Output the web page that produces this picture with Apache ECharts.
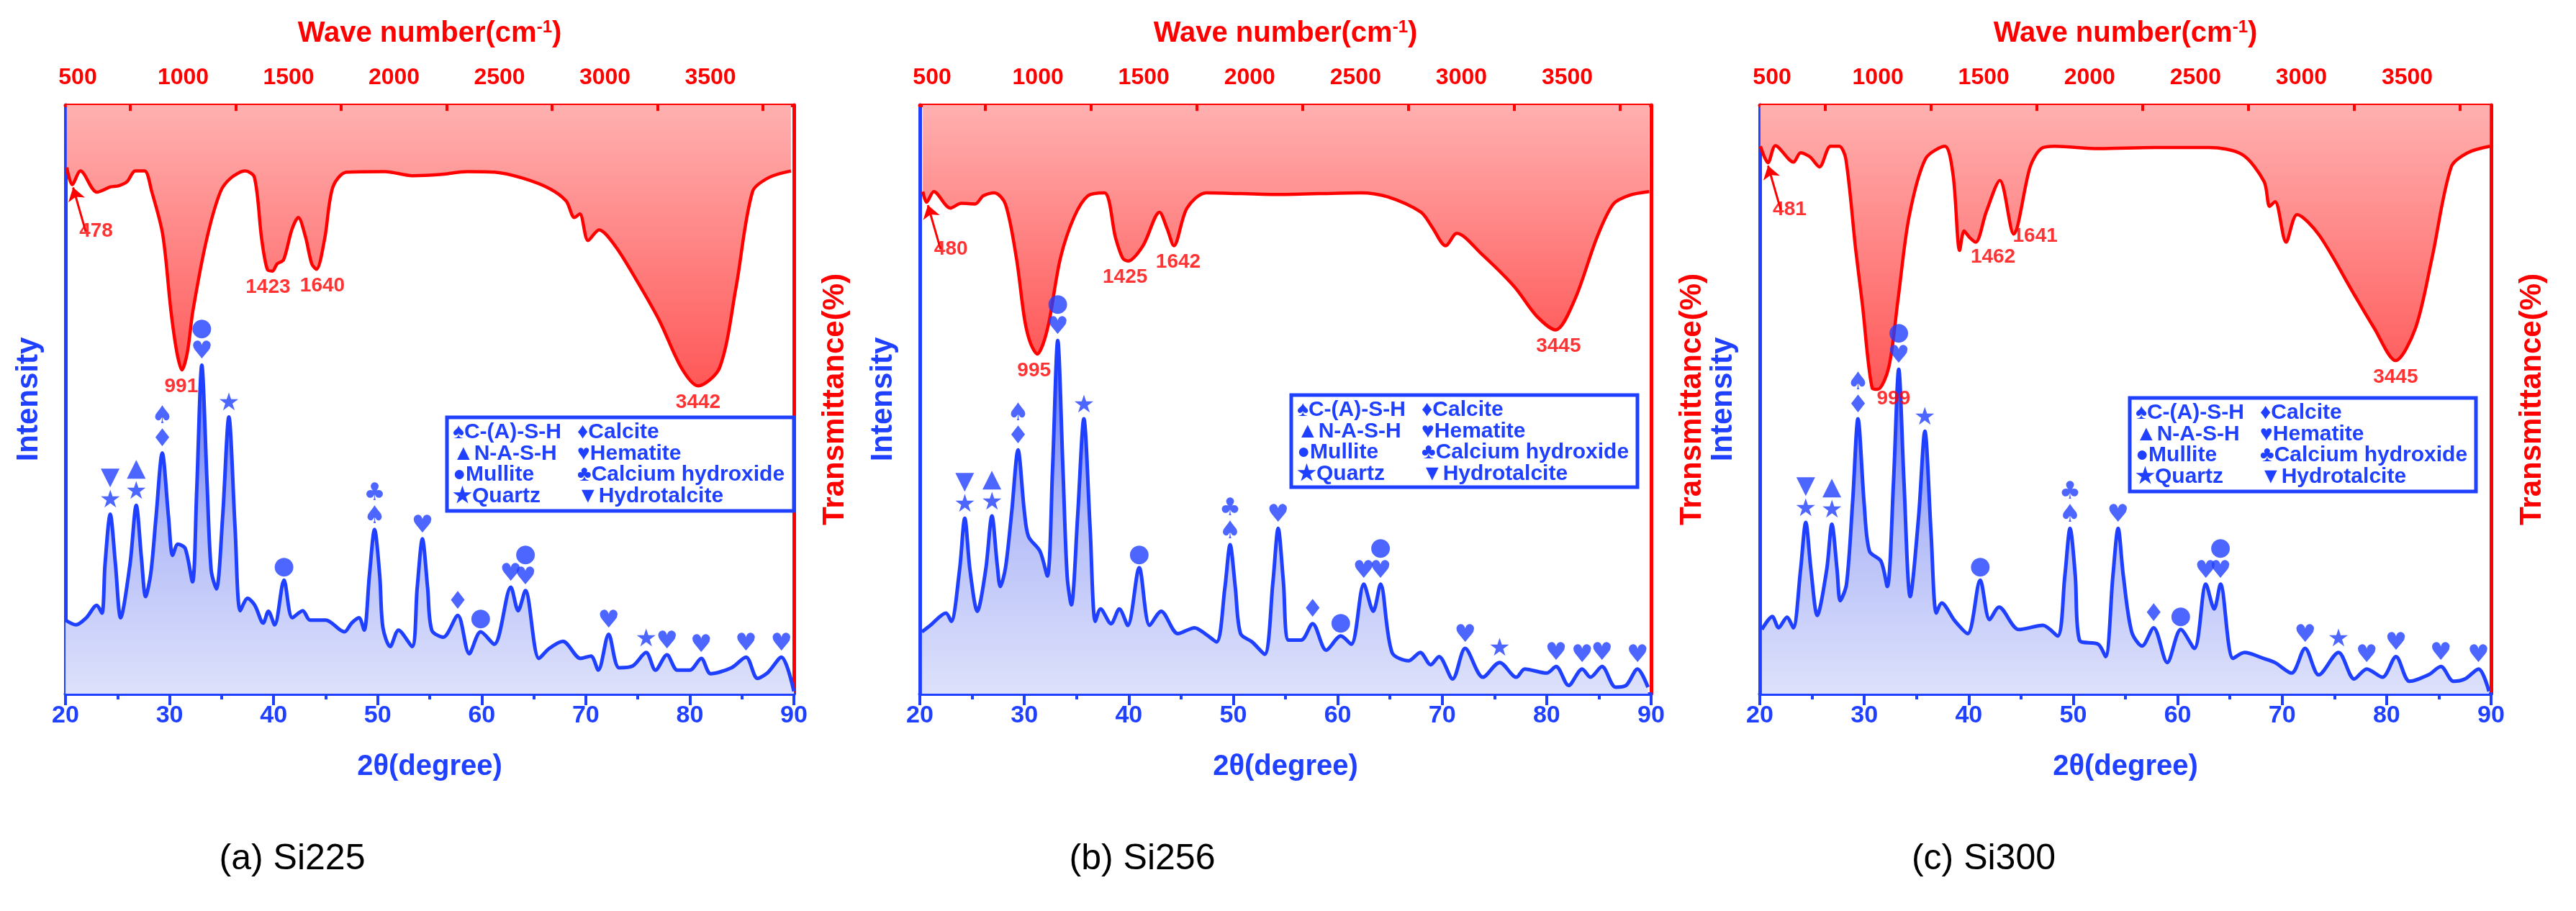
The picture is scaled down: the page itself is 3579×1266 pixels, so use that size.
<!DOCTYPE html>
<html><head><meta charset="utf-8">
<script src="https://cdn.jsdelivr.net/npm/echarts@6/dist/echarts.min.js"></script>
<style>html,body{margin:0;padding:0;background:#fff}#c{width:3579px;height:1266px}</style>
</head><body><div id="c"></div>
<script>
// ---------------- DATA ----------------
const panelNames = ['(a) Si225', '(b) Si256', '(c) Si300'];
const xrdTicks = [20, 30, 40, 50, 60, 70, 80, 90];
const ftirTicks = [500, 1000, 1500, 2000, 2500, 3000, 3500];
const ftirMinorTicks = [750, 1250, 1750, 2250, 2750, 3250, 3750];

// XRD: [2theta, relative intensity]
const xrdA = [[20,12.5],[21,11.7],[22,12.9],[23,15],[23.5,13.7],[23.8,22],[24.3,30.5],[24.8,22],[25.3,12.9],[26.2,22],[26.8,32],[27.3,23],[27.7,16.5],[28.2,20.5],[28.7,30],[29.3,40.9],[29.9,30],[30.3,23.5],[30.8,25.4],[31.5,24.7],[32.2,19],[32.6,34],[33.1,55.8],[33.6,36],[34,21],[34.5,17.8],[35.1,30],[35.7,47],[36.3,28],[36.8,14.1],[37.5,16.2],[38.2,15],[39,12],[39.5,14],[40.1,11.7],[41,19.3],[41.8,12.9],[42.8,14.1],[43.5,12.5],[45,12.5],[46.8,10.5],[47.5,12],[48.2,12.9],[48.7,10.8],[49.2,20],[49.7,27.9],[50.2,20],[50.5,11.3],[51.2,8],[52,10.8],[53.3,8],[53.8,18],[54.3,26.3],[54.8,18],[55.2,10.8],[56.3,9.6],[57.7,13.3],[58.8,6.8],[59.9,10.5],[61.2,8.4],[62.8,18.1],[63.5,14.1],[64.2,17.5],[65.5,6],[66.5,7.7],[67.8,8.9],[69.5,6],[70.5,6.4],[71.2,4],[72.2,10.1],[73.2,4.4],[74.5,4.7],[75.8,7],[76.7,4],[77.8,6.6],[78.8,4],[80,4],[81.1,6],[82,3.4],[84,4.4],[85.4,6.2],[86.5,2.6],[87.5,3.6],[88.8,6.2],[90,0.4]];
const xrdB = [[20.2,10.5],[21,11.6],[22.5,13.7],[23,12.3],[23.8,21],[24.3,29.8],[24.8,21],[25.5,14],[26.3,21],[26.9,30.2],[27.4,22],[27.7,18.2],[28.2,21.4],[28.8,31],[29.4,41.4],[30,31],[30.4,26.7],[31.5,24.2],[32.2,20],[32.7,38],[33.2,60],[33.7,38],[34.1,20],[34.5,15.1],[35.1,30],[35.7,46.7],[36.3,28],[36.8,12.3],[37.3,14.4],[38.3,11.9],[39.1,14.4],[39.9,11.6],[41,21.4],[42,11.6],[43.1,14],[44.7,10.2],[46.3,11.2],[47.3,10.2],[48.4,8.8],[49.2,18],[49.7,25.3],[50.2,18],[50.7,10.2],[51.8,8.8],[53,6.7],[53.8,19],[54.3,28.1],[54.8,19],[55.3,9.1],[56.5,9.1],[57.6,11.9],[58.9,7.4],[60.3,9.8],[61.3,8.4],[62.5,18.6],[63.4,14],[64.1,18.6],[65.2,7],[66.8,5.6],[67.9,7],[68.9,4.9],[69.7,6.3],[71,2.5],[72.2,7.7],[73.9,2.8],[75.5,5.3],[77.1,2.8],[77.9,4.2],[80,3.5],[80.9,4.6],[82.1,1.4],[83.4,4.2],[84.2,2.8],[85.3,4.6],[86.6,1.1],[87.6,1.4],[88.7,4.2],[89.7,1.1]];
const xrdC = [[20.2,10.9],[21.2,13.1],[21.8,11.2],[22.6,13],[23.2,11.2],[23.9,21],[24.4,29.1],[24.9,21],[25.5,13.3],[26.4,21],[26.9,28.8],[27.4,21],[27.7,15.8],[28.3,18.6],[28.9,33],[29.4,46.7],[30,32],[30.5,24.2],[31.6,22.5],[32.2,18.2],[32.8,36],[33.3,55.1],[33.8,36],[34.4,16.5],[35.2,30],[35.8,44.6],[36.4,27],[36.9,13.7],[37.4,15.4],[38.7,12.3],[39.9,10.2],[41.1,19.3],[42,12.6],[42.9,14.7],[44.8,10.9],[47.1,11.6],[48.5,9.8],[49.2,20],[49.7,28.1],[50.2,20],[50.6,9.1],[52.4,8.4],[53.1,6.3],[53.8,20],[54.3,28.1],[54.8,20],[55.6,10.5],[56.6,8.1],[57.7,11.2],[59,5.3],[60.3,10.9],[61.6,7.7],[62.7,18.6],[63.5,14.4],[64.1,18.6],[65.3,6],[66.4,7],[68.2,6],[69.3,5.3],[70.9,3.5],[72.2,7.7],[73.5,3.2],[75.4,7],[76.9,2.5],[78.1,4.2],[79.6,2.8],[80.9,6.3],[82.2,2.1],[84,3.2],[85.2,4.6],[86.4,2.1],[87.5,2.5],[88.8,4.2],[89.8,0.4]];

// FTIR: [wavenumber, transmittance (%)]
const ftirA = [[448,89.4],[474,86.5],[513,88.8],[591,85.2],[656,86.1],[695,86.3],[734,87],[773,88.8],[817,88.8],[851,85.3],[903,78],[942,65],[970,58],[994,55],[1020,58],[1046,65],[1112,77.3],[1177,85.3],[1229,87.7],[1294,88.8],[1338,87.7],[1372,77.3],[1400,72],[1424,71.8],[1445,73],[1476,73.7],[1515,78.8],[1546,80.9],[1580,77.6],[1610,73],[1632,72.1],[1671,77.3],[1710,86.1],[1775,88.6],[1957,88.7],[2087,88],[2217,88.2],[2347,88.7],[2478,88.6],[2608,87.6],[2738,85.8],[2816,83.7],[2855,80.9],[2881,81.5],[2920,77],[2972,78.8],[3050,76],[3154,70],[3258,63.4],[3362,55.4],[3442,52.3],[3544,55.4],[3622,69.1],[3700,85.3],[3778,87.7],[3882,88.8]];
const ftirB = [[456,85.3],[474,83.5],[508,85.3],[586,82.5],[638,83.3],[703,83.2],[742,84.6],[794,85.1],[846,83.2],[898,74],[937,63.5],[965,59.5],[997,57.7],[1025,59.5],[1054,63.5],[1106,74],[1171,81],[1236,84.6],[1314,85.1],[1366,77.5],[1400,74],[1425,73.5],[1496,76.1],[1574,81.8],[1610,79],[1642,76.1],[1704,82.5],[1795,85.1],[2133,84.8],[2523,85.1],[2653,84.4],[2809,81.8],[2861,79.3],[2926,76.1],[2978,78.2],[3095,74.7],[3251,69.1],[3354,64.2],[3445,61.8],[3536,67],[3640,77.5],[3718,83.2],[3796,84.7],[3887,85.3]];
const ftirC = [[445,93],[481,90.2],[516,93.1],[601,90.3],[635,91.9],[679,91.2],[724,89.5],[776,93],[817,93],[848,90.9],[895,75.4],[926,66.3],[973,51.9],[999,51.7],[1051,55.4],[1095,67],[1147,81],[1225,90.9],[1316,93],[1355,88.1],[1386,75.3],[1407,78.6],[1433,77.5],[1462,76.7],[1511,81.8],[1576,87.2],[1641,78.1],[1719,89.5],[1771,92.6],[1836,93],[2044,92.6],[2304,92.8],[2564,92.8],[2720,91.6],[2824,87],[2850,82.8],[2876,83.6],[2928,76.7],[2980,81.4],[3084,77.9],[3240,68.4],[3344,62.1],[3445,56.6],[3539,62.1],[3617,74],[3708,89.5],[3786,91.9],[3890,93]];

// Phase markers: [2theta, intensity, symbols top->bottom]
const marksA = [[24.3,30.5,'▼\n★'],[26.8,32,'▲\n★'],[29.3,40.9,'♠\n♦'],[33.1,55.8,'●\n♥'],[35.7,47,'★'],[41,19.3,'●'],[49.7,27.9,'♣\n♠'],[54.3,26.3,'♥'],[57.7,13.3,'♦'],[59.9,10.5,'●'],[62.8,18.1,'♥'],[64.2,17.5,'●\n♥'],[72.2,10.1,'♥'],[75.8,7,'★'],[77.8,6.6,'♥'],[81.1,6,'♥'],[85.4,6.2,'♥'],[88.8,6.2,'♥']];
const marksB = [[24.3,29.8,'▼\n★'],[26.9,30.2,'▲\n★'],[29.4,41.4,'♠\n♦'],[33.2,60,'●\n♥'],[35.7,46.7,'★'],[41,21.4,'●'],[49.7,25.3,'♣\n♠'],[54.3,28.1,'♥'],[57.6,11.9,'♦'],[60.3,9.8,'●'],[62.5,18.6,'♥'],[64.1,18.6,'●\n♥'],[72.2,7.7,'♥'],[75.5,5.3,'★'],[80.9,4.6,'♥'],[83.4,4.2,'♥'],[85.3,4.6,'♥'],[88.7,4.2,'♥']];
const marksC = [[24.4,29.1,'▼\n★'],[26.9,28.8,'▲\n★'],[29.4,46.7,'♠\n♦'],[33.3,55.1,'●\n♥'],[35.8,44.6,'★'],[41.1,19.3,'●'],[49.7,28.1,'♣\n♠'],[54.3,28.1,'♥'],[57.7,11.2,'♦'],[60.3,10.9,'●'],[62.7,18.6,'♥'],[64.1,18.6,'●\n♥'],[72.2,7.7,'♥'],[75.4,7,'★'],[78.1,4.2,'♥'],[80.9,6.3,'♥'],[85.2,4.6,'♥'],[88.8,4.2,'♥']];

// FTIR peak labels: [wavenumber, transmittance, text]
const peaksA = [[478,86.5,'478'],[991,55,'991'],[1423,71.8,'1423'],[1640,72.1,'1640'],[3442,52.3,'3442']];
const peaksB = [[480,83.5,'480'],[995,57.7,'995'],[1425,73.5,'1425'],[1642,76.1,'1642'],[3445,61.8,'3445']];
const peaksC = [[481,90.2,'481'],[999,51.7,'999'],[1462,76.7,'1462'],[1641,78.1,'1641'],[3445,56.6,'3445']];

const legendCol1 = ['♠C-(A)-S-H', '▲N-A-S-H', '●Mullite', '★Quartz'];
const legendCol2 = ['♦Calcite', '♥Hematite', '♣Calcium hydroxide', '▼Hydrotalcite'];

// ---------------- LAYOUT / STYLE ----------------
const W = 3579, H = 1266;
const BLUE = '#2040ff', RED = '#ff0000';
const FF = 'Liberation Sans, Arial, sans-serif';
const SYM = 'DejaVu Sans, sans-serif';
const gridBox = [[91,1103],[1278,2294],[2445,3461]];
const TOP = 146, BOT = 964;
const legendBox = [[621,580,482,130],[1794,549,481,128],[2959,553,481,130]];
const xrd = [xrdA, xrdB, xrdC], ftir = [ftirA, ftirB, ftirC], marks = [marksA, marksB, marksC], peaks = [peaksA, peaksB, peaksC];
const peakOff = [
  [[32,46],[0,4],[-6,4],[6,4],[0,4]],
  [[32,46],[-4,4],[-4,4],[6,4],[4,4]],
  [[30,46],[22,-6],[24,2],[30,-16],[0,4]]
];

const grid = [], xAxis = [], yAxis = [], series = [], graphic = [];
gridBox.forEach(([l, r], i) => {
  grid.push({left: l, right: W - r, top: TOP, bottom: H - BOT, containLabel: false});
  xAxis.push({type: 'value', gridIndex: i, position: 'bottom', min: 20, max: 90, interval: 10,
    axisLine: {show: true, onZero: false, lineStyle: {color: BLUE, width: 5}},
    axisTick: {show: true, length: 16, lineStyle: {color: BLUE, width: 4}},
    minorTick: {show: true, splitNumber: 2, length: 8, lineStyle: {color: BLUE, width: 4}},
    splitLine: {show: false},
    axisLabel: {color: BLUE, fontSize: 34, fontWeight: 'bold', fontFamily: FF, margin: 14},
    name: '2θ(degree)', nameLocation: 'middle', nameGap: 82,
    nameTextStyle: {color: BLUE, fontSize: 40, fontWeight: 'bold', fontFamily: FF}});
  xAxis.push({type: 'value', gridIndex: i, position: 'top', min: 442, max: 3896,
    axisLine: {show: true, onZero: false, lineStyle: {color: RED, width: 5}},
    axisTick: {show: true, inside: true, length: 14, customValues: ftirTicks, lineStyle: {color: RED, width: 4}},
    splitLine: {show: false},
    axisLabel: {color: RED, fontSize: 32, fontWeight: 'bold', fontFamily: FF, margin: 22, customValues: ftirTicks, formatter: v => String(v)},
    name: 'Wave number(cm{s|-1})', nameLocation: 'middle', nameGap: 78,
    nameTextStyle: {color: RED, fontSize: 40, fontWeight: 'bold', fontFamily: FF,
      rich: {s: {fontSize: 24, fontWeight: 'bold', color: RED, verticalAlign: 'top', padding: [0,0,18,0], fontFamily: FF}}}});
  yAxis.push({type: 'value', gridIndex: i, position: 'left', min: 0, max: 100,
    axisLine: {show: true, onZero: false, lineStyle: {color: BLUE, width: 5}}, axisTick: {show: false},
    axisLabel: {show: false}, splitLine: {show: false},
    name: 'Intensity', nameLocation: 'middle', nameGap: 30, nameRotate: 90,
    nameTextStyle: {color: BLUE, fontSize: 42, fontWeight: 'bold', fontFamily: FF}});
  yAxis.push({type: 'value', gridIndex: i, position: 'right', min: 0, max: 100,
    axisLine: {show: true, onZero: false, lineStyle: {color: RED, width: 5}}, axisTick: {show: false},
    axisLabel: {show: false}, splitLine: {show: false},
    name: 'Transmittance(%)', nameLocation: 'middle', nameGap: 36, nameRotate: 90,
    nameTextStyle: {color: RED, fontSize: 42, fontWeight: 'bold', fontFamily: FF}});

  const xb = i * 2, xt = i * 2 + 1, yl = i * 2, yr = i * 2 + 1;
  series.push({type: 'line', xAxisIndex: xt, yAxisIndex: yr, data: ftir[i], smooth: 0.3, symbol: 'none',
    lineStyle: {color: RED, width: 4.5},
    areaStyle: {origin: 'end', opacity: 1, color: new echarts.graphic.LinearGradient(0,0,0,1,[{offset:0,color:'#ffb0b0'},{offset:1,color:'#ff5858'}])},
    markLine: {silent: true, symbol: ['none','arrow'], symbolSize: 18, label: {show: false}, animation: false,
      lineStyle: {color: RED, width: 3, type: 'solid'},
      data: [[{coord: [peaks[i][0][0] + 60, peaks[i][0][1] - 8]}, {coord: [peaks[i][0][0], peaks[i][0][1] - 0.5]}]]},
    z: 2});
  series.push({type: 'line', xAxisIndex: xt, yAxisIndex: yr, data: [], silent: true,
    markLine: {silent: true, symbol: ['none','none'], label: {show: false}, animation: false,
      lineStyle: {color: RED, width: 4, type: 'solid'},
      data: ftirMinorTicks.map(v => [{coord: [v, 100]}, {coord: [v, 99]}])}, z: 4});
  series.push({type: 'scatter', xAxisIndex: xt, yAxisIndex: yr, symbolSize: 0, silent: true, z: 6,
    data: peaks[i].map((p, k) => ({value: [p[0], p[1]], label: {offset: peakOff[i][k]}})),
    label: {show: true, position: 'bottom', color: RED, fontSize: 28, fontWeight: 'bold', fontFamily: FF,
      formatter: (d) => peaks[i][d.dataIndex][2]}});
  series.push({type: 'line', xAxisIndex: xb, yAxisIndex: yl, data: xrd[i], smooth: 0.3, symbol: 'none',
    lineStyle: {color: BLUE, width: 5},
    areaStyle: {origin: 'start', opacity: 1, color: new echarts.graphic.LinearGradient(0,0,0,1,[{offset:0,color:'#5a6ef6'},{offset:0.5,color:'#b4bdf8'},{offset:1,color:'#dde1fb'}])},
    z: 3});
  series.push({type: 'scatter', xAxisIndex: xb, yAxisIndex: yl, symbolSize: 0, silent: true, z: 5,
    data: marks[i].map(m => [m[0], m[1]]),
    label: {show: true, position: 'top', distance: 2, color: BLUE, fontSize: 34, lineHeight: 32, fontFamily: SYM,
      formatter: (d) => marks[i][d.dataIndex][2]}});

  const [bx, by, bw, bh] = legendBox[i];
  graphic.push({type: 'rect', shape: {x: bx, y: by, width: bw, height: bh}, style: {fill: '#fff', stroke: BLUE, lineWidth: 5}, z: 10});
  legendCol1.forEach((t, k) => graphic.push({type: 'text', x: bx + 8, y: by + 21 + k * 29.5, z: 11,
    style: {text: t, fill: BLUE, font: 'bold 30px ' + FF, verticalAlign: 'middle'}}));
  legendCol2.forEach((t, k) => graphic.push({type: 'text', x: bx + 181, y: by + 21 + k * 29.5, z: 11,
    style: {text: t, fill: BLUE, font: 'bold 30px ' + FF, verticalAlign: 'middle'}}));
  graphic.push({type: 'text', x: [406, 1587, 2756][i], y: 1194, z: 11,
    style: {text: panelNames[i], fill: '#000', font: '50px ' + FF, align: 'center', verticalAlign: 'middle'}});
});

const chart = echarts.init(document.getElementById('c'), null, {renderer: 'canvas'});
chart.setOption({animation: false, backgroundColor: '#fff', grid, xAxis, yAxis, series, graphic});
</script></body></html>
